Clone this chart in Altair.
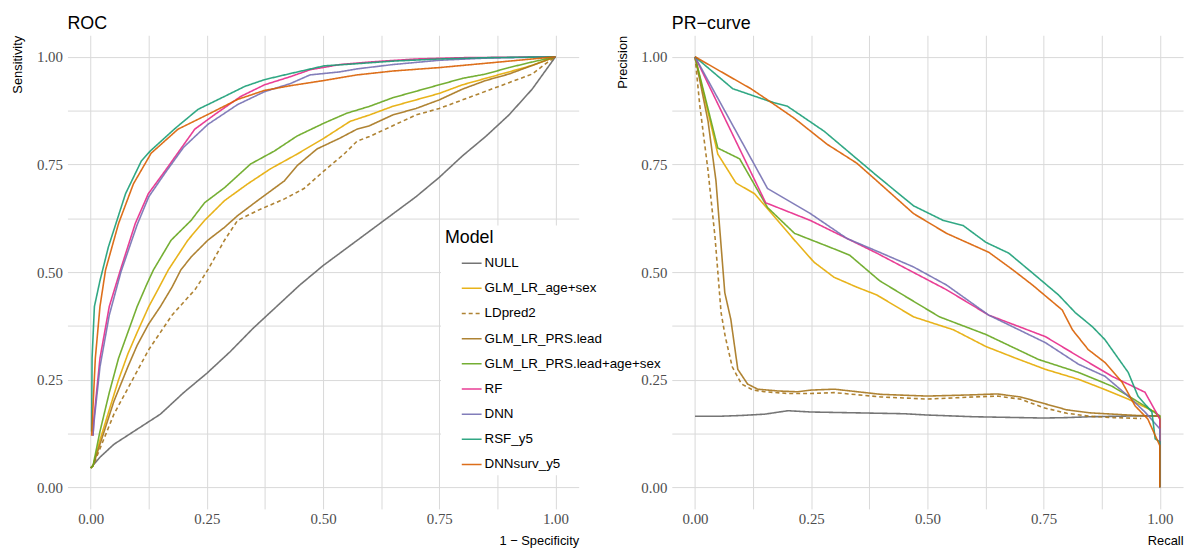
import altair as alt
import pandas as pd

MODELS = ["NULL", "GLM_LR_age+sex", "LDpred2", "GLM_LR_PRS.lead",
          "GLM_LR_PRS.lead+age+sex", "RF", "DNN", "RSF_y5", "DNNsurv_y5"]
COLORS = ["#666666", "#E6AB02", "#A6761D", "#A6761D", "#66A61E",
          "#E7298A", "#7570B3", "#1B9E77", "#D95F02"]
DASHES = [[1, 0], [1, 0], [4, 3], [1, 0], [1, 0], [1, 0], [1, 0], [1, 0], [1, 0]]

# ---- ROC curves: [1 - specificity, sensitivity]
roc_null = [[0, 0.045], [0.02, 0.07], [0.05, 0.1], [0.1, 0.135], [0.15, 0.17], [0.2, 0.22],
            [0.25, 0.265], [0.3, 0.315], [0.35, 0.37], [0.4, 0.42], [0.45, 0.47], [0.5, 0.515],
            [0.55, 0.555], [0.6, 0.595], [0.65, 0.635], [0.7, 0.675], [0.75, 0.72], [0.8, 0.77],
            [0.85, 0.815], [0.9, 0.865], [0.95, 0.925], [1, 1]]
roc_glm_agesex = [[0, 0.045], [0.005, 0.05], [0.02, 0.11], [0.04, 0.18], [0.06, 0.25], [0.08, 0.31],
                  [0.1, 0.36], [0.125, 0.42], [0.145, 0.46], [0.167, 0.505], [0.209, 0.574],
                  [0.245, 0.62], [0.288, 0.666], [0.338, 0.705], [0.387, 0.74], [0.444, 0.774],
                  [0.502, 0.811], [0.558, 0.85], [0.6, 0.865], [0.65, 0.885], [0.7, 0.9],
                  [0.75, 0.915], [0.8, 0.935], [0.85, 0.95], [0.9, 0.965], [0.95, 0.98], [1, 1]]
roc_ldpred2 = [[0, 0.045], [0.005, 0.05], [0.02, 0.09], [0.05, 0.17], [0.08, 0.23], [0.1, 0.27],
               [0.125, 0.32], [0.15, 0.36], [0.175, 0.4], [0.2, 0.43], [0.225, 0.46], [0.252, 0.505],
               [0.288, 0.574], [0.316, 0.62], [0.359, 0.643], [0.417, 0.67], [0.459, 0.694],
               [0.502, 0.735], [0.545, 0.774], [0.573, 0.804], [0.6, 0.815], [0.65, 0.84],
               [0.7, 0.865], [0.75, 0.88], [0.8, 0.9], [0.85, 0.92], [0.9, 0.94], [0.95, 0.96],
               [0.98, 0.985], [1, 1]]
roc_glm_prs = [[0, 0.045], [0.005, 0.05], [0.02, 0.1], [0.05, 0.2], [0.08, 0.28], [0.1, 0.33],
               [0.125, 0.38], [0.15, 0.42], [0.175, 0.465], [0.194, 0.505], [0.216, 0.535],
               [0.252, 0.574], [0.288, 0.604], [0.316, 0.631], [0.359, 0.666], [0.417, 0.712],
               [0.444, 0.747], [0.487, 0.786], [0.536, 0.811], [0.573, 0.832], [0.6, 0.84],
               [0.65, 0.865], [0.7, 0.88], [0.75, 0.9], [0.8, 0.925], [0.85, 0.945], [0.9, 0.96],
               [0.95, 0.98], [1, 1]]
roc_glm_prs_agesex = [[0, 0.045], [0.005, 0.05], [0.02, 0.13], [0.04, 0.22], [0.06, 0.3], [0.08, 0.36],
                      [0.1, 0.42], [0.12, 0.47], [0.135, 0.505], [0.173, 0.574], [0.216, 0.62],
                      [0.245, 0.661], [0.288, 0.696], [0.344, 0.751], [0.395, 0.781], [0.444, 0.816],
                      [0.502, 0.846], [0.551, 0.869], [0.6, 0.885], [0.65, 0.905], [0.7, 0.92],
                      [0.75, 0.935], [0.8, 0.95], [0.85, 0.96], [0.9, 0.975], [0.95, 0.988], [1, 1]]
roc_rf = [[0.005, 0.12], [0.007, 0.16], [0.02, 0.3], [0.04, 0.42], [0.064, 0.505], [0.096, 0.613],
          [0.124, 0.682], [0.16, 0.735], [0.224, 0.832], [0.267, 0.866], [0.323, 0.908],
          [0.374, 0.935], [0.43, 0.954], [0.472, 0.97], [0.536, 0.982], [0.6, 0.988], [0.7, 0.995],
          [0.8, 0.998], [0.9, 0.999], [1, 1]]
roc_dnn = [[0.005, 0.12], [0.007, 0.15], [0.02, 0.28], [0.04, 0.4], [0.065, 0.5], [0.1, 0.61],
           [0.125, 0.675], [0.16, 0.73], [0.2, 0.79], [0.252, 0.843], [0.316, 0.889], [0.374, 0.919],
           [0.43, 0.938], [0.472, 0.958], [0.536, 0.965], [0.573, 0.972], [0.65, 0.982],
           [0.75, 0.992], [0.85, 0.997], [1, 1]]
roc_rsf = [[0.002, 0.13], [0.003, 0.3], [0.008, 0.42], [0.02, 0.48], [0.038, 0.558], [0.075, 0.682],
           [0.109, 0.758], [0.128, 0.781], [0.182, 0.834], [0.231, 0.878], [0.288, 0.908],
           [0.331, 0.931], [0.374, 0.947], [0.429, 0.961], [0.502, 0.979], [0.573, 0.984],
           [0.65, 0.99], [0.75, 0.995], [0.85, 0.998], [1, 1]]
roc_dnnsurv = [[0.002, 0.12], [0.01, 0.3], [0.02, 0.42], [0.032, 0.505], [0.06, 0.613], [0.092, 0.705],
               [0.13, 0.776], [0.188, 0.832], [0.252, 0.866], [0.316, 0.901], [0.374, 0.922],
               [0.43, 0.933], [0.502, 0.945], [0.573, 0.958], [0.65, 0.967], [0.75, 0.975],
               [0.85, 0.985], [0.95, 0.995], [1, 1]]

# ---- PR curves: [recall, precision]
pr_null = [[0, 0.165], [0.05, 0.165], [0.1, 0.167], [0.15, 0.17], [0.2, 0.178], [0.25, 0.175],
           [0.3, 0.174], [0.35, 0.173], [0.4, 0.172], [0.45, 0.171], [0.5, 0.168], [0.55, 0.166],
           [0.6, 0.164], [0.65, 0.163], [0.7, 0.162], [0.75, 0.161], [0.8, 0.162], [0.85, 0.164],
           [0.9, 0.165], [0.95, 0.166], [1, 0.166]]
pr_glm_agesex = [[0, 1], [0.049, 0.774], [0.088, 0.707], [0.128, 0.682], [0.156, 0.647], [0.214, 0.574],
                 [0.256, 0.523], [0.299, 0.488], [0.348, 0.465], [0.391, 0.447], [0.47, 0.396],
                 [0.556, 0.366], [0.626, 0.327], [0.69, 0.3], [0.754, 0.274], [0.825, 0.251],
                 [0.88, 0.228], [0.932, 0.205], [0.99, 0.175], [1, 0.159], [1, 0]]
pr_ldpred2 = [[0, 1], [0.01, 0.889], [0.028, 0.735], [0.043, 0.581], [0.056, 0.406], [0.065, 0.35],
              [0.08, 0.28], [0.1, 0.24], [0.125, 0.226], [0.15, 0.222], [0.2, 0.218], [0.25, 0.218],
              [0.3, 0.22], [0.35, 0.215], [0.4, 0.21], [0.5, 0.205], [0.6, 0.21], [0.65, 0.212],
              [0.7, 0.205], [0.75, 0.185], [0.8, 0.172], [0.85, 0.165], [0.9, 0.162], [0.96, 0.16]]
pr_glm_prs = [[0, 1], [0.028, 0.85], [0.045, 0.712], [0.064, 0.452], [0.077, 0.39], [0.092, 0.274],
              [0.113, 0.24], [0.135, 0.228], [0.177, 0.224], [0.22, 0.222], [0.25, 0.226], [0.3, 0.228],
              [0.35, 0.222], [0.4, 0.216], [0.5, 0.212], [0.6, 0.215], [0.65, 0.217], [0.7, 0.21],
              [0.75, 0.195], [0.8, 0.18], [0.85, 0.173], [0.9, 0.17], [0.95, 0.167], [1, 0.165], [1, 0]]
pr_glm_prs_agesex = [[0, 1], [0.049, 0.788], [0.096, 0.763], [0.156, 0.65], [0.214, 0.59], [0.306, 0.551],
                     [0.333, 0.539], [0.397, 0.48], [0.455, 0.442], [0.526, 0.396], [0.626, 0.355],
                     [0.739, 0.297], [0.825, 0.267], [0.897, 0.235], [0.968, 0.189], [1, 0.166], [1, 0]]
pr_rf = [[0, 1], [0.152, 0.661], [0.248, 0.62], [0.391, 0.544], [0.541, 0.459], [0.632, 0.4],
         [0.754, 0.35], [0.825, 0.304], [0.897, 0.258], [0.968, 0.221], [1, 0.159], [1, 0]]
pr_dnn = [[0, 1], [0.156, 0.694], [0.248, 0.636], [0.327, 0.578], [0.397, 0.546], [0.47, 0.512],
          [0.541, 0.47], [0.632, 0.4], [0.754, 0.336], [0.825, 0.286], [0.882, 0.258], [0.932, 0.212],
          [0.968, 0.175], [1, 0.136], [1, 0]]
pr_rsf = [[0, 1], [0.081, 0.926], [0.162, 0.896], [0.199, 0.885], [0.278, 0.827], [0.391, 0.724],
          [0.47, 0.654], [0.534, 0.62], [0.577, 0.608], [0.626, 0.569], [0.675, 0.544], [0.726, 0.498],
          [0.782, 0.447], [0.818, 0.406], [0.855, 0.373], [0.882, 0.343], [0.932, 0.267],
          [0.953, 0.212], [0.983, 0.175], [0.99, 0.113], [1, 0.106], [1, 0]]
pr_dnnsurv = [[0, 1], [0.12, 0.926], [0.156, 0.9], [0.214, 0.857], [0.284, 0.797], [0.348, 0.753],
              [0.391, 0.712], [0.47, 0.636], [0.541, 0.59], [0.632, 0.546], [0.684, 0.505], [0.726, 0.47],
              [0.79, 0.412], [0.812, 0.366], [0.846, 0.32], [0.882, 0.29], [0.919, 0.244],
              [0.947, 0.189], [0.974, 0.159], [1, 0.097], [1, 0]]

ROC = [roc_null, roc_glm_agesex, roc_ldpred2, roc_glm_prs, roc_glm_prs_agesex,
       roc_rf, roc_dnn, roc_rsf, roc_dnnsurv]
PR = [pr_null, pr_glm_agesex, pr_ldpred2, pr_glm_prs, pr_glm_prs_agesex,
      pr_rf, pr_dnn, pr_rsf, pr_dnnsurv]

GRID = [0, 0.125, 0.25, 0.375, 0.5, 0.625, 0.75, 0.875, 1]


def frame(curves):
    rows = []
    for m, pts in zip(MODELS, curves):
        for i, (x, y) in enumerate(pts):
            rows.append({"model": m, "x": x, "y": y, "i": i})
    return pd.DataFrame(rows)


SANS = "Liberation Sans"
SERIF = "Liberation Serif"
LABEL_EXPR = "(datum.value * 8) % 2 == 0 ? format(datum.value, '.2f') : ''"

LEG = alt.Legend(title="Model", orient="none", legendX=377, legendY=192)


def panel(data, title, xt, yt, legend):
    lines = alt.Chart(data).mark_line(strokeWidth=1.6, opacity=0.9).encode(
        x=alt.X("x:Q", scale=alt.Scale(domain=[-0.05, 1.05], nice=False, zero=False),
                axis=alt.Axis(values=GRID, labelExpr=LABEL_EXPR, title=xt, titleAnchor="end",
                              titleBaseline="top", titlePadding=8, labelPadding=3)),
        y=alt.Y("y:Q", scale=alt.Scale(domain=[-0.05, 1.05], nice=False, zero=False),
                axis=alt.Axis(values=GRID, labelExpr=LABEL_EXPR, title=yt, titleX=-50, titleY=0,
                              titleAlign="right", titleAngle=270, titleBaseline="middle",
                              labelPadding=5)),
        color=alt.Color("model:N", scale=alt.Scale(domain=MODELS, range=COLORS), legend=legend),
        strokeDash=alt.StrokeDash("model:N", scale=alt.Scale(domain=MODELS, range=DASHES),
                                  legend=legend),
        order="i:Q",
    )
    head = alt.Chart(pd.DataFrame({"t": [title]})).mark_text(
        align="left", baseline="alphabetic", fontSize=18, font=SANS, color="black"
    ).encode(text="t:N", x=alt.value(0), y=alt.value(-6))
    return alt.layer(lines, head).properties(width=516, height=478)


left = panel(frame(ROC), "ROC", "1 \u2212 Specificity", "Sensitivity", LEG)
right = panel(frame(PR), "PR\u2212curve", "Recall", "Precision", None)

chart = alt.hconcat(left, right, spacing=94, bounds="flush").resolve_legend(
    color="independent", strokeDash="independent"
).properties(
    padding={"left": 4, "top": 5, "right": 5, "bottom": 5}, background="white"
).configure_view(stroke=None).configure_axis(
    grid=True, gridColor="#d9d9d9", gridWidth=1, domain=False, ticks=False,
    labelFont=SERIF, labelFontSize=15, labelColor="#4d4d4d", labelFlush=False, labelOverlap=False,
    titleFont=SANS, titleFontSize=13, titleFontWeight="normal", titleColor="black",
).configure_legend(
    fillColor="white", padding=4, titleFont=SANS, titleFontSize=18, titleFontWeight="normal",
    titleColor="black", titlePadding=5, labelFont=SANS, labelFontSize=13.5, labelColor="black",
    labelLimit=400, symbolType="stroke", symbolSize=400, symbolStrokeWidth=1.5, rowPadding=7.4,
    labelOffset=2, symbolOffset=16,
)

chart.save("out.html", embed_options={"renderer": "svg", "actions": False})
